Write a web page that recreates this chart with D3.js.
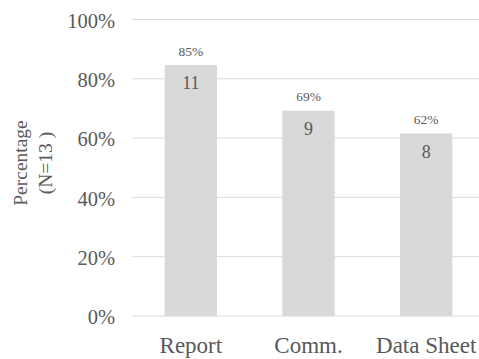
<!DOCTYPE html>
<html>
<head>
<meta charset="utf-8">
<script src="https://cdn.jsdelivr.net/npm/d3@7"></script>
<style>
  html, body { margin: 0; padding: 0; background: #fff; }
  svg text { font-family: "Liberation Serif", "Times New Roman", "DejaVu Serif", serif; fill: #595959; }
</style>
</head>
<body>
<svg id="chart" width="479" height="359"></svg>
<script>
// Document types and how many of the 13 respondents chose each
const categories = ["Report", "Comm.", "Data Sheet"];
const counts = [11, 9, 8];
const total = 13;
const percentLabels = ["85%", "69%", "62%"];
const yTicks = [0, 0.2, 0.4, 0.6, 0.8, 1.0];

const svg = d3.select("#chart");
const margin = { left: 132, right: -6, top: 19.5, bottom: 43 };
const W = 479, H = 359;
const serif = '"Liberation Serif", "Times New Roman", serif';

const x = d3.scaleBand()
  .domain(categories)
  .range([margin.left, W - margin.right])
  .paddingInner(0.555)
  .paddingOuter(0.2775);

const y = d3.scaleLinear()
  .domain([0, 1])
  .range([H - margin.bottom, margin.top]);

// horizontal gridlines
svg.append("g")
  .selectAll("line")
  .data(yTicks)
  .join("line")
  .attr("x1", margin.left)
  .attr("x2", W)
  .attr("y1", d => y(d))
  .attr("y2", d => y(d))
  .attr("stroke", "#d9d9d9")
  .attr("stroke-width", 1);

// y axis tick labels
const yAxis = d3.axisLeft(y)
  .tickValues(yTicks)
  .tickFormat(d3.format(".0%"))
  .tickSize(0)
  .tickPadding(17);
const yg = svg.append("g")
  .attr("transform", `translate(${margin.left},0)`)
  .call(yAxis);
yg.attr("font-family", serif);
yg.select(".domain").remove();
yg.selectAll("text")
  .attr("dy", "0.38em")
  .style("font-size", "20.5px")
  .attr("fill", "#595959");

// bars
const data = categories.map((c, i) => ({ cat: c, count: counts[i], pct: counts[i] / total, label: percentLabels[i] }));

svg.append("g")
  .selectAll("rect")
  .data(data)
  .join("rect")
  .attr("x", d => x(d.cat))
  .attr("width", x.bandwidth())
  .attr("y", d => y(d.pct))
  .attr("height", d => y(0) - y(d.pct))
  .attr("fill", "#d9d9d9");

// percentage labels above bars
svg.append("g")
  .selectAll("text")
  .data(data)
  .join("text")
  .attr("x", d => x(d.cat) + x.bandwidth() / 2)
  .attr("y", d => y(d.pct) - 9.5)
  .attr("text-anchor", "middle")
  .style("font-size", "13.5px")
  .text(d => d.label);

// counts inside bars
svg.append("g")
  .selectAll("text")
  .data(data)
  .join("text")
  .attr("x", d => x(d.cat) + x.bandwidth() / 2)
  .attr("y", d => y(d.pct) + 24)
  .attr("text-anchor", "middle")
  .style("font-size", "18px")
  .text(d => d.count);

// x axis labels
const xAxis = d3.axisBottom(x).tickSize(0).tickPadding(0);
const xg = svg.append("g")
  .attr("transform", `translate(0,${y(0)})`)
  .call(xAxis);
xg.attr("font-family", serif);
xg.select(".domain").remove();
xg.selectAll("text")
  .attr("y", 37)
  .attr("dy", null)
  .style("font-size", "23px")
  .attr("fill", "#595959");

// y axis title
const title = svg.append("text")
  .attr("transform", "translate(27,163) rotate(-90)")
  .attr("text-anchor", "middle")
  .style("font-size", "19.5px");
title.append("tspan").attr("x", 0).attr("y", 0).text("Percentage");
title.append("tspan").attr("x", 0).attr("y", 25).text("(N=13 )");
</script>
</body>
</html>
